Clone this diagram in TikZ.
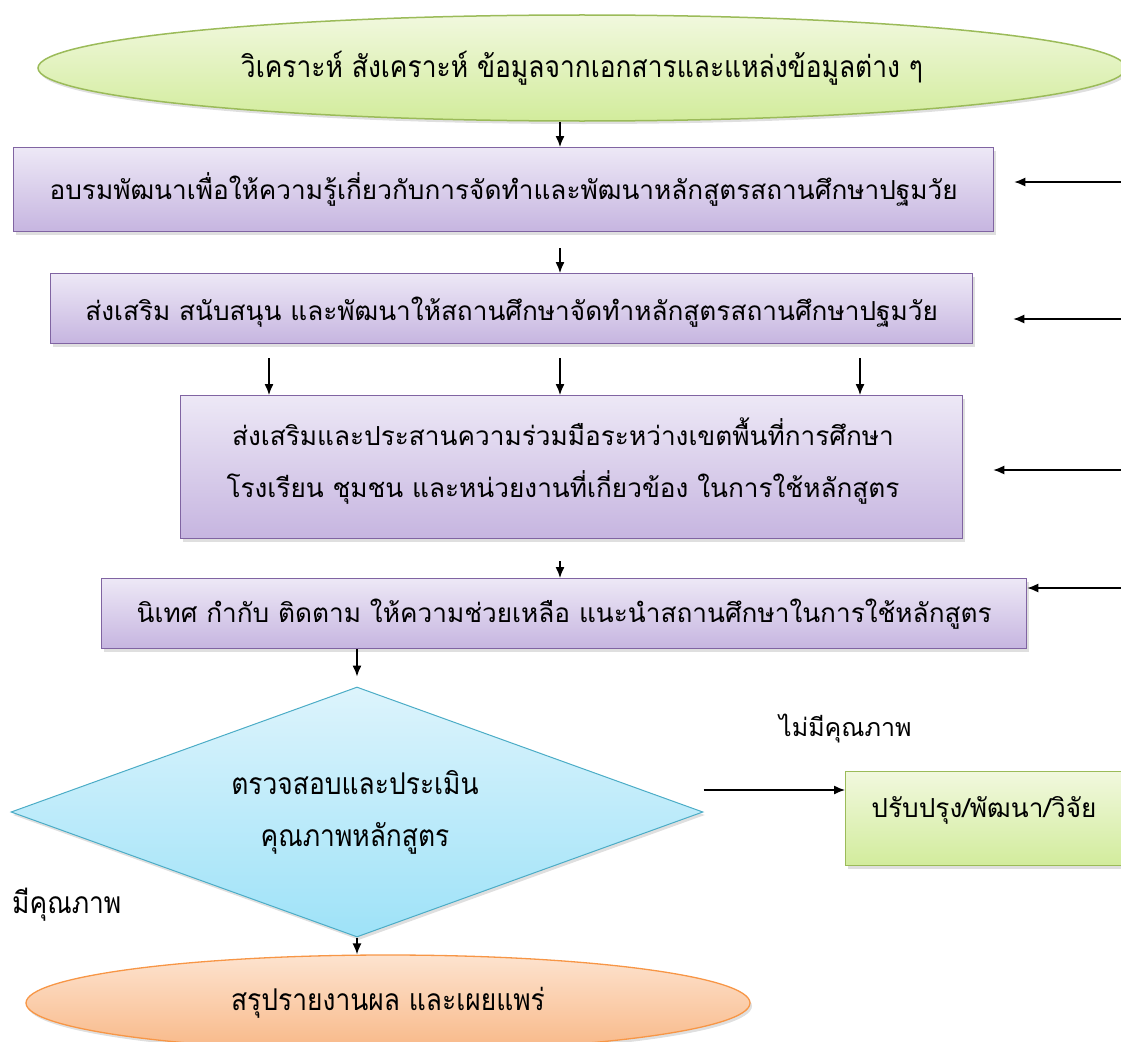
\documentclass[tikz,border=0pt]{standalone}
\usepackage{fontspec}
\newfontfamily\thai[Script=Thai]{Loma}
\newfontfamily\thainarrow[Script=Thai,FakeStretch=0.88]{Loma}
\usetikzlibrary{shapes.geometric,arrows.meta,shadows}
\definecolor{pborder}{HTML}{8064A2}
\definecolor{ptop}{HTML}{EDE8F6}
\definecolor{pbot}{HTML}{C6B5E0}
\definecolor{gborder}{HTML}{9BBB59}
\definecolor{gtop}{HTML}{F1F8DE}
\definecolor{gbot}{HTML}{D2EC9C}
\definecolor{bborder}{HTML}{4BACC6}
\definecolor{btop}{HTML}{DDF4FC}
\definecolor{bbot}{HTML}{9EE2F8}
\definecolor{oborder}{HTML}{F79646}
\definecolor{otop}{HTML}{FDE3CF}
\definecolor{obot}{HTML}{F8B887}
\tikzset{
  shad/.style={drop shadow={opacity=0.25,shadow xshift=2pt,shadow yshift=-3pt}},
  pbox/.style={rectangle,draw=pborder,line width=1.3pt,top color=ptop,bottom color=pbot,shad,inner sep=0pt,anchor=north west},
  gell/.style={ellipse,draw=gborder,line width=1.5pt,top color=gtop,bottom color=gbot,shad,inner sep=0pt,font=\thainarrow\fontsize{30}{34}\selectfont},
  oell/.style={ellipse,draw=oborder,line width=1.3pt,top color=otop,bottom color=obot,shad,inner sep=0pt,font=\thainarrow\fontsize{30}{34}\selectfont},
  gbox/.style={rectangle,draw=gborder,line width=1.3pt,top color=gtop,bottom color=gbot,shad,inner sep=0pt,anchor=north west},
  dia/.style={diamond,draw=bborder,line width=1pt,top color=btop,bottom color=bbot,shad,inner sep=0pt},
  txt/.style={inner sep=0pt,font=\thai\fontsize{26.2}{30}\selectfont},
  ntxt/.style={inner sep=0pt,font=\thainarrow\fontsize{30}{34}\selectfont},
  arr/.style={-{Latex[length=11pt,width=9pt]},line width=1.3pt,black},
}
\begin{document}
\begin{tikzpicture}[x=1pt,y=-1pt]
\useasboundingbox (0,0) rectangle (1121,1041);
% nodes
\node[gell,minimum width=1088pt,minimum height=106pt] (top) at (582,68) {วิเคราะห์ สังเคราะห์ ข้อมูลจากเอกสารและแหล่งข้อมูลต่าง ๆ};
\node[pbox,minimum width=980pt,minimum height=84pt] (b1) at (13,147) {};
\node[txt] (t1) at (b1.center) {อบรมพัฒนาเพื่อให้ความรู้เกี่ยวกับการจัดทำและพัฒนาหลักสูตรสถานศึกษาปฐมวัย};
\node[pbox,minimum width=922pt,minimum height=70pt] (b2) at (50,273) {};
\node[txt] (t2) at ([yshift=-3pt]b2.center) {ส่งเสริม สนับสนุน และพัฒนาให้สถานศึกษาจัดทำหลักสูตรสถานศึกษาปฐมวัย};
\node[pbox,minimum width=782pt,minimum height=143pt] (b3) at (180,395) {};
\node[txt] (t3a) at (563,432) {ส่งเสริมและประสานความร่วมมือระหว่างเขตพื้นที่การศึกษา};
\node[txt] (t3b) at (563,487) {โรงเรียน ชุมชน และหน่วยงานที่เกี่ยวข้อง ในการใช้หลักสูตร};
\node[pbox,minimum width=925pt,minimum height=70pt] (b4) at (101,578) {};
\node[txt] (t4) at (b4.center) {นิเทศ กำกับ ติดตาม ให้ความช่วยเหลือ แนะนำสถานศึกษาในการใช้หลักสูตร};
\node[dia,minimum width=692pt,minimum height=250pt] (d) at (357,812) {};
\node[ntxt] (td1) at (355,783) {ตรวจสอบและประเมิน};
\node[ntxt] (td2) at (355,838) {คุณภาพหลักสูตร};
\node[gbox,minimum width=285pt,minimum height=94pt] (g) at (845,771) {};
\node[txt] (tg) at (984,810) {ปรับปรุง/พัฒนา/วิจัย};
\node[oell,minimum width=724pt,minimum height=96pt] (bot) at (388,1003) {สรุปรายงานผล และเผยแพร่};
\node[ntxt,anchor=west] (yes) at (12,905) {มีคุณภาพ};
\node[txt,anchor=west,font=\thai\fontsize{25}{30}\selectfont] (no) at (779,729) {ไม่มีคุณภาพ};
% arrow helper coordinates
\coordinate (xm) at (560,0);
\coordinate (xl) at (269,0);
\coordinate (xr) at (860,0);
\coordinate (xd) at (357,0);
\coordinate (de) at ([yshift=22pt]d.east);
\coordinate (r1) at (1121,182);
\coordinate (r2) at (1121,319);
\coordinate (r3) at (1121,470);
\coordinate (r4) at (1121,588);
% connectors
\draw[arr] (top.south -| xm) -- (b1.north -| xm);
\draw[arr,shorten <=16pt] (b1.south -| xm) -- (b2.north -| xm);
\draw[arr,shorten <=14pt] (b2.south -| xl) -- (b3.north -| xl);
\draw[arr,shorten <=14pt] (b2.south -| xm) -- (b3.north -| xm);
\draw[arr,shorten <=14pt] (b2.south -| xr) -- (b3.north -| xr);
\draw[arr,shorten <=22pt] (b3.south -| xm) -- (b4.north -| xm);
\draw[arr,shorten >=10pt] (b4.south -| xd) -- (d.north);
\draw[arr] (d.south) -- (bot.north -| xd);
\draw[arr] (de) -- (g.west |- de);
\draw[arr,shorten >=20pt] (r1) -- (b1.east |- r1);
\draw[arr,shorten >=40pt] (r2) -- (b2.east |- r2);
\draw[arr,shorten >=30pt] (r3) -- (b3.east |- r3);
\draw[arr] (r4) -- (b4.east |- r4);
\end{tikzpicture}
\end{document}
